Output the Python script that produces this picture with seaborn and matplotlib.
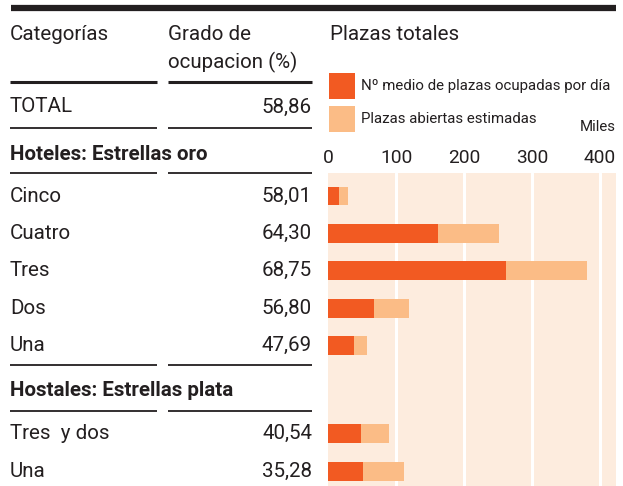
import matplotlib
matplotlib.use("Agg")
import matplotlib.pyplot as plt
import matplotlib.transforms as mtransforms
import pandas as pd
import seaborn as sns

# Datos
categorias = ["Cinco", "Cuatro", "Tres", "Dos", "Una", "Tres  y dos", "Una"]
grado = ["58,01", "64,30", "68,75", "56,80", "47,69", "40,54", "35,28"]
ocupadas = [16.6, 161.8, 261.8, 67.6, 38.2, 48.5, 51.5]      # miles
abiertas = [29.4, 251.5, 380.9, 119.1, 57.4, 89.7, 111.8]    # miles
total_grado = "58,86"
ticks = [0, 100, 200, 300, 400]

# row layout (gap for the hostales header)
filas = [0, 1, 2, 3, 4, 6.35, 7.37]

dark = "#F25A22"
light = "#FBBC86"
bg = "#FDECDE"
txt = "#231F20"
fs = 14.8

sns.set_style("white")
plt.rcParams["font.family"] = ["Roboto", "DejaVu Sans"]

W, H = 623, 486
fig = plt.figure(figsize=(W / 100, H / 100), dpi=100)

def fx(px):
    return px / W

def fy(py):
    return 1 - py / H

ax = fig.add_axes([fx(328), 0, fx(616) - fx(328), (486 - 173) / H])
ax.set_facecolor(bg)

df = pd.DataFrame({"fila": filas, "ocupadas": ocupadas, "abiertas": abiertas})
sns.barplot(data=df, x="abiertas", y="fila", orient="h", native_scale=True,
            color=light, width=0.5, saturation=1, ax=ax, linewidth=0, zorder=2)
sns.barplot(data=df, x="ocupadas", y="fila", orient="h", native_scale=True,
            color=dark, width=0.5, saturation=1, ax=ax, linewidth=0, zorder=3)

ax.set_xlim(0, 423.5)
ax.set_ylim(7.75, -0.615)
for t in ticks[1:]:
    ax.axvline(t, color="white", lw=2.2, zorder=1)
ax.xaxis.tick_top()
ax.set_xticks(ticks)
ax.set_xticklabels([str(t) for t in ticks], fontsize=13.8, color=txt)
ax.tick_params(axis="x", length=0, pad=4)
ax.set_yticks([])
ax.set_xlabel("")
ax.set_ylabel("")
for s in ax.spines.values():
    s.set_visible(False)

# top black rule
fig.add_artist(plt.Line2D([fx(11), fx(616)], [fy(7.7), fy(7.7)], color=txt, lw=4.5,
                          solid_capstyle="butt"))

# headers
fig.text(fx(10), fy(34), "Categorías", fontsize=fs, color=txt, va="center")
fig.text(fx(168), fy(34), "Grado de", fontsize=fs, color=txt, va="center")
fig.text(fx(168), fy(62), "ocupacion (%)", fontsize=fs, color=txt, va="center")
fig.text(fx(330), fy(34), "Plazas totales", fontsize=fs, color=txt, va="center")

# legend
for y0, c, lab in [(73, dark, "Nº medio de plazas ocupadas por día"),
                   (106, light, "Plazas abiertas estimadas")]:
    fig.add_artist(plt.Rectangle((fx(329), fy(y0 + 26)), fx(26), 26 / H,
                                 color=c, lw=0))
    fig.text(fx(361), fy(y0 + 13), lab, fontsize=10.8, color=txt, va="center")
fig.text(fx(616), fy(127), "Miles", fontsize=10.8, color=txt, va="center", ha="right")

def rules(py, lw):
    for x0, x1 in [(10, 157), (168, 312)]:
        fig.add_artist(plt.Line2D([fx(x0), fx(x1)], [fy(py), fy(py)], color=txt, lw=lw,
                                  solid_capstyle="butt"))

rules(82, 2.2)
rules(128, 1.3)
rules(173, 1.3)
rules(365, 1.3)
rules(411, 1.3)

fig.text(fx(10), fy(107), "TOTAL", fontsize=fs, color=txt, va="center")
fig.text(fx(312), fy(107), total_grado, fontsize=fs, color=txt, va="center", ha="right")
fig.text(fx(10), fy(155), "Hoteles: Estrellas oro", fontsize=fs, color=txt,
         va="center", weight="bold")
fig.text(fx(10), fy(390), "Hostales: Estrellas plata", fontsize=fs, color=txt,
         va="center", weight="bold")

tr = mtransforms.blended_transform_factory(fig.transFigure, ax.transData)
for f, cat, g in zip(filas, categorias, grado):
    fig.text(fx(10), f, cat, transform=tr, fontsize=fs, color=txt, va="center")
    fig.text(fx(312), f, g, transform=tr, fontsize=fs, color=txt, va="center", ha="right")

fig.savefig("out.png", dpi=100)
